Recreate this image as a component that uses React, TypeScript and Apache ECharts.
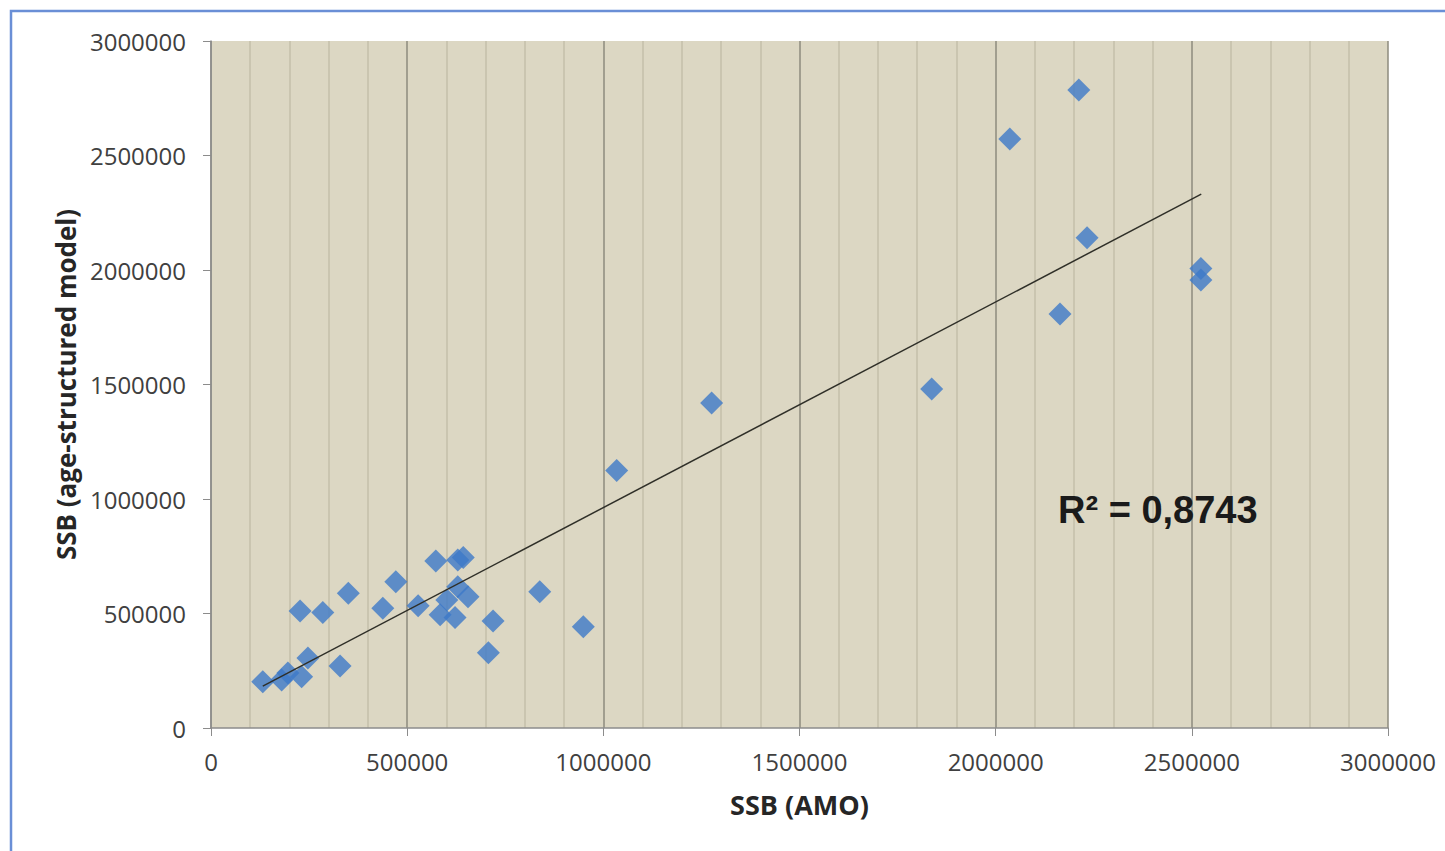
import React, { useEffect, useRef } from "react";
import * as echarts from "echarts";

// SSB (AMO) vs SSB (age-structured model)
const ssbAMO = [
  132000, 180000, 196000, 231000, 247000, 227000, 285000, 350000, 329000, 438000,
  471000, 528000, 573000, 643000, 629000, 584000, 622000, 601000, 629000, 655000,
  719000, 707000, 838000, 949000, 1034000, 1276000, 1837000, 2036000, 2212000,
  2233000, 2164000, 2523000, 2523000,
];
const ssbAge = [
  202000, 210000, 240000, 224000, 306000, 511000, 504000, 588000, 271000, 523000,
  639000, 534000, 729000, 745000, 734000, 494000, 482000, 559000, 617000, 573000,
  467000, 329000, 595000, 442000, 1124000, 1419000, 1480000, 2572000, 2786000,
  2141000, 1808000, 2007000, 1956000,
];
// linear trend line end points
const trendX = [132000, 2524000];
const trendY = [183000, 2331000];
const rSquaredLabel = "R² = 0,8743";
const xTitle = "SSB (AMO)";
const yTitle = "SSB (age-structured model)";

export default function App() {
  const ref = useRef<HTMLDivElement>(null);
  useEffect(() => {
    if (!ref.current) return;
    const chart = echarts.init(ref.current, undefined, { renderer: "svg" });
    const font = "'Open Sans', 'Liberation Sans', sans-serif";
    const plain = (v: number) => String(v);
    chart.setOption({
      animation: false,
      backgroundColor: "#ffffff",
      title: {
        text: rSquaredLabel,
        left: 1053,
        top: 486,
        textStyle: {
          fontFamily: "'Liberation Sans', Arial, sans-serif",
          fontWeight: "bold",
          fontSize: 38,
          color: "#1a1a1a",
        },
      },
      grid: {
        left: 211,
        top: 41,
        right: 57,
        bottom: 123,
        show: true,
        backgroundColor: "#DCD7C3",
        borderWidth: 0,
      },
      xAxis: {
        type: "value",
        min: 0,
        max: 3000000,
        interval: 500000,
        name: xTitle,
        nameLocation: "middle",
        nameGap: 63,
        nameTextStyle: { fontFamily: font, fontWeight: "bold", fontSize: 27, color: "#262626" },
        axisLine: { show: true, lineStyle: { color: "#8c8c8c", width: 1.5 } },
        axisTick: { show: true, length: 8, lineStyle: { color: "#8c8c8c" } },
        axisLabel: { fontFamily: font, fontSize: 24, color: "#404040", margin: 21, formatter: plain },
        splitLine: { show: true, lineStyle: { color: "#8E8B7E", width: 1.5 } },
        minorTick: { show: false, splitNumber: 5 },
        minorSplitLine: { show: true, lineStyle: { color: "#C5BFAA", width: 1.5 } },
      },
      yAxis: {
        type: "value",
        min: 0,
        max: 3000000,
        interval: 500000,
        name: yTitle,
        nameLocation: "middle",
        nameRotate: 90,
        nameGap: 128,
        nameTextStyle: { fontFamily: font, fontWeight: "bold", fontSize: 26, color: "#262626" },
        axisLine: { show: true, lineStyle: { color: "#8c8c8c", width: 1.5 } },
        axisTick: { show: true, length: 8, lineStyle: { color: "#8c8c8c" } },
        axisLabel: { fontFamily: font, fontSize: 24, color: "#404040", margin: 25, formatter: plain },
        splitLine: { show: false },
      },
      series: [
        {
          type: "line",
          data: trendX.map((x, i) => [x, trendY[i]]),
          showSymbol: false,
          symbol: "none",
          lineStyle: { color: "#2f2f28", width: 1.5 },
          z: 3,
        },
        {
          type: "scatter",
          data: ssbAMO.map((x, i) => [x, ssbAge[i]]),
          symbol: "diamond",
          symbolSize: 23,
          itemStyle: { color: "#3D79C8" },
          z: 2,
        },
      ],
      graphic: [
        {
          type: "rect",
          shape: { x: 11, y: 11, width: 1600, height: 1000 },
          style: { fill: "none", stroke: "#6A8FD6", lineWidth: 2.5 },
          silent: true,
        },
      ],
    });
    return () => chart.dispose();
  }, []);
  return (
    <div
      ref={ref}
      style={{ position: "fixed", left: 0, top: 0, width: 1445, height: 851 }}
    />
  );
}
